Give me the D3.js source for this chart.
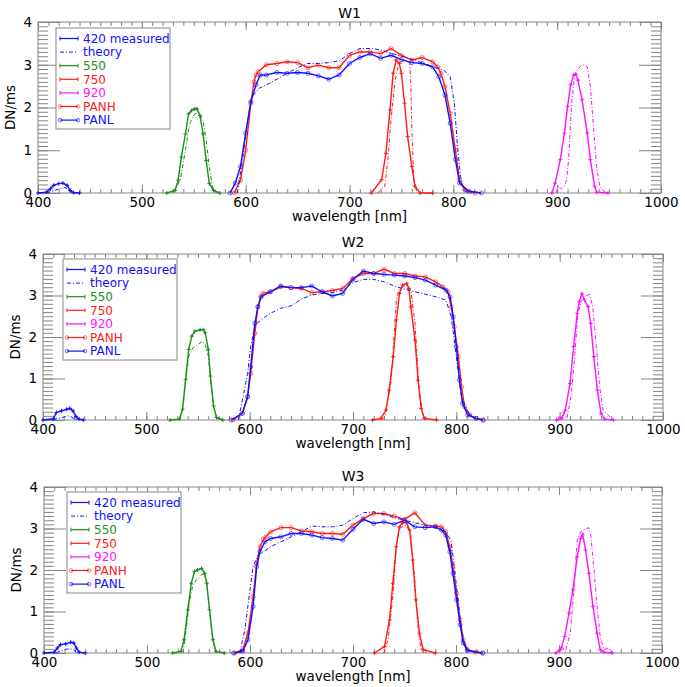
<!DOCTYPE html>
<html>
<head>
<meta charset="utf-8">
<script src="https://cdn.jsdelivr.net/npm/d3@7"></script>
<style>
  body { margin: 0; background: #fff; }
  text { font-family: "DejaVu Sans", sans-serif; }
</style>
</head>
<body>
<script>
// ---- data: [wavelength nm, DN/ms] ----
// W1
var w1_420 = [[400,0],[408,0.02],[412,0.1],[415,0.18],[420,0.22],[424,0.23],[428,0.18],[431,0.06],[434,0.01],[440,0]];
var w1_420_th = [[408,0],[412,0.03],[416,0.06],[421,0.1],[426,0.13],[429,0.08],[432,0.01],[435,0]];
var w1_550 = [[524,0],[532,0.06],[535,0.3],[538,0.84],[542,1.38],[545,1.85],[548,1.93],[551,1.97],[553,1.97],[556,1.81],[559,1.38],[562,0.76],[565,0.22],[569,0.06],[575,0]];
var w1_550_th = [[530,0],[537,0.3],[542,1.0],[546,1.62],[551,1.85],[555,1.89],[559,1.69],[562,1.23],[565,0.61],[568,0.14],[572,0]];
var w1_750 = [[721,0],[731,0.31],[735,0.93],[739,1.94],[742,2.8],[745,3.11],[748,3.03],[750,2.8],[753,2.1],[756,1.32],[760,0.62],[763,0.16],[768,0],[780,0]];
var w1_750_th = [[727,0],[734,0.16],[737,0.78],[740,1.71],[744,2.64],[747,2.97],[750,3.08],[755,3.1],[758,3.03],[759,2.6],[760,1.5],[762,0.3],[765,0]];
var w1_920 = [[895,0],[898,0.23],[903,0.78],[907,1.4],[910,2.02],[913,2.53],[916,2.76],[918,2.78],[920,2.64],[924,2.18],[929,1.4],[932,0.78],[936,0.16],[938,0.02],[949,0]];
var w1_920_th = [[899,0],[901,0.16],[904,0.1],[907,0.15],[909,0.3],[911,0.78],[914,2.1],[917,2.8],[922,2.95],[925,3.0],[929,2.95],[932,2.49],[935,1.55],[938,0.62],[941,0.16],[945,0.04],[949,0]];
var w1_panh = [[589,0],[595,0.3],[600,1.0],[605,2.1],[608,2.6],[610,2.76],[612,2.84],[620,3.0],[630,3.03],[640,3.07],[650,3.05],[660,2.93],[670,2.99],[680,2.93],[690,2.93],[700,3.22],[710,3.3],[720,3.3],[730,3.26],[740,3.38],[750,3.22],[760,3.11],[770,3.17],[780,3.07],[785,2.95],[788,2.8],[792,2.49],[797,1.86],[802,1.0],[806,0.31],[811,0.08],[821,0]];
var w1_panl = [[585,0],[590,0.23],[595,0.62],[600,1.4],[605,2.14],[610,2.53],[614,2.76],[620,2.76],[630,2.82],[640,2.8],[650,2.82],[660,2.8],[670,2.74],[680,2.66],[690,2.76],[700,3.03],[710,3.17],[720,3.26],[730,3.15],[740,3.22],[750,3.12],[760,3.05],[770,3.03],[780,2.95],[786,2.72],[792,2.29],[797,1.63],[802,0.78],[806,0.23],[815,0.04],[827,0]];
var w1_pan_th = [[592,0],[597,0.78],[602,1.71],[606,2.25],[613,2.45],[620,2.53],[630,2.66],[640,2.8],[650,2.93],[660,3.03],[670,3.03],[680,3.05],[690,3.09],[700,3.26],[710,3.38],[722,3.38],[731,3.34],[741,3.26],[752,3.19],[762,3.11],[772,3.03],[781,2.95],[791,2.87],[797,2.72],[801,2.1],[804,1.09],[807,0.39],[810,0.04],[818,0]];

// W2
var w2_420 = [[400,0],[410,0.03],[413,0.18],[418,0.22],[423,0.26],[426,0.28],[429,0.22],[432,0.08],[435,0.02],[439,0]];
var w2_420_th = [[410,0],[413,0.03],[419,0.06],[424,0.1],[427,0.08],[431,0.02],[434,0]];
var w2_550 = [[523,0],[532,0.02],[535,0.26],[538,0.98],[541,1.7],[544,2.02],[547,2.14],[552,2.17],[555,2.18],[557,2.1],[560,1.7],[562,1.06],[565,0.34],[568,0.06],[574,0]];
var w2_550_th = [[532,0],[535,0.2],[538,0.9],[541,1.54],[545,1.74],[550,1.82],[554,1.9],[557,1.82],[560,1.54],[562,0.98],[565,0.34],[568,0.04],[572,0]];
var w2_750 = [[719,0],[727,0.04],[732,0.24],[735,0.72],[739,1.53],[742,2.41],[745,3.05],[748,3.25],[752,3.29],[754,3.17],[756,2.73],[760,1.93],[763,0.96],[766,0.28],[769,0.04],[781,0]];
var w2_750_th = [[728,0],[731,0.1],[737,0.96],[742,2.89],[745,3.17],[752,3.25],[756,3.13],[760,2.33],[764,0.72],[768,0.08],[771,0]];
var w2_920 = [[897,0],[902,0.04],[905.5,0.24],[910,0.88],[913.5,1.77],[917,2.57],[919,2.85],[921.5,3.04],[924,2.89],[927.5,2.73],[930,2.33],[933,1.53],[936.5,0.72],[940,0.16],[943.5,0.02],[952,0]];
var w2_920_th = [[898,0],[900,0.12],[903,0.2],[907,0.04],[911,0.56],[914.5,1.53],[917.7,2.57],[921,2.89],[925,2.99],[929,3.03],[932,2.73],[935.5,1.77],[938.7,0.8],[942,0.24],[947,0.12],[950,0.04],[952,0]];
var w2_panh = [[584,0],[593,0.16],[598,0.56],[601,1.12],[605,2.09],[608,2.73],[611,2.97],[613,3.05],[620,3.09],[630,3.21],[640,3.19],[650,3.17],[660,3.07],[670,3.09],[680,3.12],[690,3.17],[700,3.41],[710,3.53],[720,3.53],[730,3.63],[740,3.53],[750,3.53],[760,3.47],[770,3.45],[780,3.33],[787,3.21],[792,3.09],[795,2.73],[798,2.25],[802,1.53],[805,0.8],[808,0.32],[813,0.12],[819,0.04],[826,0]];
var w2_panl = [[582,0],[593,0.16],[598,0.56],[601,1.28],[605,2.33],[608,2.73],[611,2.97],[620,3.09],[630,3.23],[640,3.19],[650,3.19],[660,3.23],[670,3.09],[680,2.99],[690,3.05],[700,3.39],[710,3.59],[720,3.53],[730,3.51],[740,3.49],[750,3.47],[760,3.43],[770,3.37],[780,3.25],[790,3.13],[794,2.97],[797,2.49],[800,1.77],[803,0.96],[806,0.4],[811,0.12],[819,0.04],[826,0]];
var w2_pan_th = [[589,0],[593,0.48],[598,1.12],[601,1.77],[605,2.25],[607,2.33],[613,2.45],[620,2.57],[630,2.69],[640,2.75],[650,2.91],[660,3.01],[670,3.05],[680,3.07],[690,3.13],[700,3.31],[710,3.39],[720,3.39],[730,3.33],[740,3.23],[750,3.15],[760,3.09],[770,3.03],[780,2.97],[790,2.89],[795,2.49],[798,1.93],[802,1.12],[805,0.56],[810,0.24],[816,0.08],[823,0]];

// W3
var w3_420 = [[400,0],[410,0.02],[413,0.12],[416,0.2],[421,0.22],[426,0.26],[429,0.24],[431.5,0.12],[434,0.02],[440,0]];
var w3_420_th = [[412,0],[414.6,0.04],[419.5,0.08],[424,0.1],[428,0.09],[431.5,0.02],[434,0]];
var w3_550 = [[525,0],[533,0.04],[536,0.32],[539.6,1.04],[543,1.68],[546,1.96],[549,2.0],[553,2.04],[556,1.92],[558,1.68],[560.7,1.04],[564,0.32],[567,0.04],[575,0]];
var w3_550_th = [[535,0],[538,0.56],[541,1.2],[544.5,1.64],[548,1.76],[552.6,1.88],[555,1.9],[557.5,1.76],[560,1.2],[563,0.48],[565.6,0.08],[568,0]];
var w3_750 = [[721,0],[730.6,0.16],[735.5,0.8],[738.7,1.68],[742,2.56],[745,3.04],[748,3.14],[752,3.14],[755,2.96],[758,2.24],[761,1.28],[764.5,0.48],[768,0.08],[780,0]];
var w3_750_th = [[730,0],[734,0.32],[738.7,1.36],[742,2.56],[745,3.0],[751.6,3.08],[756,2.88],[760,1.76],[763,0.64],[766,0.08],[769,0]];
var w3_920 = [[897,0],[901.6,0.08],[905.5,0.4],[909.7,0.96],[913.5,1.52],[917.7,2.32],[921,2.76],[923,2.86],[925.8,2.48],[929,1.92],[933,1.12],[937,0.48],[940,0.08],[943.5,0.02],[951.6,0]];
var w3_920_th = [[898,0],[900,0.12],[903,0.16],[906,0.02],[911,0.48],[914.5,1.52],[917.7,2.72],[921,2.92],[925,2.98],[929,3.02],[931,2.8],[934,2.0],[937,1.12],[940,0.4],[943.5,0.08],[948,0.12],[951.6,0]];
var w3_panh = [[585,0],[593,0.08],[598,0.48],[603,1.36],[606.5,2.16],[609.7,2.56],[613,2.74],[615.5,2.8],[620,2.92],[630,3.02],[640,3.02],[650,2.94],[660,2.92],[670,2.88],[680,2.88],[690,2.86],[700,3.08],[710,3.24],[720,3.36],[730,3.36],[740,3.3],[750,3.22],[760,3.38],[770,3.08],[780,3.06],[786,3.04],[790,2.92],[794,2.56],[797,2.08],[800.6,1.44],[804,0.8],[807,0.32],[811,0.08],[819,0.02],[826,0]];
var w3_panl = [[584,0],[593,0.04],[598,0.32],[603,1.12],[606.5,2.08],[609.7,2.44],[614.5,2.68],[620,2.76],[630,2.8],[640,2.88],[650,2.88],[660,2.84],[670,2.78],[680,2.76],[690,2.72],[700,2.98],[710,3.22],[720,3.12],[730,3.16],[740,3.1],[750,3.2],[760,3.04],[770,3.02],[780,3.04],[786,2.96],[790,2.84],[794,2.44],[797,1.92],[800.6,1.28],[804,0.68],[807,0.24],[811,0.06],[826,0]];
var w3_pan_th = [[590,0],[595,0.56],[600,1.52],[603,2.08],[608,2.36],[613,2.44],[620,2.56],[630,2.68],[640,2.8],[650,2.92],[660,3.06],[670,3.04],[680,3.04],[690,3.08],[700,3.24],[710,3.38],[720,3.4],[730,3.34],[740,3.26],[750,3.2],[760,3.14],[770,3.08],[780,3.02],[790,2.92],[795,2.72],[798,2.16],[801.6,1.36],[805,0.64],[808,0.24],[813,0.06],[819,0]];

// axis ticks and legend labels
var xMajor = [400, 500, 600, 700, 800, 900, 1000];
var yMajor = [0, 1, 2, 3, 4];
var legendLabels = ["420 measured", "theory", "550", "750", "920", "PANH", "PANL"];

// colours
var BLUE = "#1010ff", GREEN = "#1e8c1e", RED = "#ff1a1a", MAG = "#ff10ff";
var AXIS = "#858585";

// panel layout (pixels)
var panels = [
  {title: "W1", l: 38, r: 661, t: 22, b: 193, titleY: 18, legX: 56, legY: 28,
   data: [w1_420, w1_420_th, w1_550, w1_550_th, w1_750, w1_750_th, w1_920, w1_920_th, w1_panh, w1_panl, w1_pan_th]},
  {title: "W2", l: 43, r: 663, t: 254, b: 420, titleY: 247, legX: 63, legY: 259,
   data: [w2_420, w2_420_th, w2_550, w2_550_th, w2_750, w2_750_th, w2_920, w2_920_th, w2_panh, w2_panl, w2_pan_th]},
  {title: "W3", l: 44, r: 662, t: 487, b: 653, titleY: 481, legX: 67, legY: 492,
   data: [w3_420, w3_420_th, w3_550, w3_550_th, w3_750, w3_750_th, w3_920, w3_920_th, w3_panh, w3_panl, w3_pan_th]}
];

// style of each series in the data list above
var styles = [
  {c: BLUE, kind: "meas"}, {c: BLUE, kind: "theo"},
  {c: GREEN, kind: "meas"}, {c: GREEN, kind: "theo"},
  {c: RED, kind: "meas"}, {c: RED, kind: "theo"},
  {c: MAG, kind: "meas"}, {c: MAG, kind: "theo"},
  {c: RED, kind: "pan"}, {c: BLUE, kind: "pan"}, {c: BLUE, kind: "theo"}
];

var svg = d3.select("body").append("svg")
  .attr("width", 685)
  .attr("height", 687);

function styleAxis(sel) {
  sel.select(".domain").remove();
  sel.selectAll("line").attr("stroke", AXIS);
  sel.selectAll("text").attr("fill", "#000").attr("font-size", "13.5px");
}

panels.forEach(function(p) {
  var x = d3.scaleLinear().domain([400, 1000]).range([p.l, p.r]);
  var y = d3.scaleLinear().domain([0, 4]).range([p.b, p.t]);
  var g = svg.append("g");

  // minor ticks
  var xMinor = d3.range(400, 1001, 10);
  var yMinor = d3.range(0, 40.5, 1).map(function(d) { return d / 10; });

  g.append("g").attr("transform", "translate(0," + p.b + ")")
    .call(d3.axisBottom(x).tickValues(xMinor).tickSize(-4).tickFormat("")).call(styleAxis);
  g.append("g").attr("transform", "translate(0," + p.t + ")")
    .call(d3.axisTop(x).tickValues(xMinor).tickSize(-4).tickFormat("")).call(styleAxis);
  g.append("g").attr("transform", "translate(" + p.l + ",0)")
    .call(d3.axisLeft(y).tickValues(yMinor).tickSize(-10).tickFormat("")).call(styleAxis);
  g.append("g").attr("transform", "translate(" + p.r + ",0)")
    .call(d3.axisRight(y).tickValues(yMinor).tickSize(-10).tickFormat("")).call(styleAxis);

  // major ticks
  g.append("g").attr("transform", "translate(0," + p.b + ")")
    .call(d3.axisBottom(x).tickValues(xMajor).tickSizeInner(-8).tickSizeOuter(0).tickPadding(4.5).tickFormat(d3.format("d")))
    .call(styleAxis);
  g.append("g").attr("transform", "translate(0," + p.t + ")")
    .call(d3.axisTop(x).tickValues(xMajor).tickSizeInner(-8).tickSizeOuter(0).tickFormat(""))
    .call(styleAxis);
  g.append("g").attr("transform", "translate(" + p.l + ",0)")
    .call(d3.axisLeft(y).tickValues(yMajor).tickSizeInner(-22).tickSizeOuter(0).tickPadding(6).tickFormat(d3.format("d")))
    .call(styleAxis);
  g.append("g").attr("transform", "translate(" + p.r + ",0)")
    .call(d3.axisRight(y).tickValues(yMajor).tickSizeInner(-22).tickSizeOuter(0).tickFormat(""))
    .call(styleAxis);

  // frame
  g.append("rect")
    .attr("x", p.l).attr("y", p.t)
    .attr("width", p.r - p.l).attr("height", p.b - p.t)
    .attr("fill", "none").attr("stroke", AXIS).attr("stroke-width", 1);

  // title and axis labels
  g.append("text")
    .attr("x", (p.l + p.r) / 2).attr("y", p.titleY)
    .attr("text-anchor", "middle").attr("font-size", "14px")
    .text(p.title);
  g.append("text")
    .attr("x", (p.l + p.r) / 2).attr("y", p.b + 28)
    .attr("text-anchor", "middle").attr("font-size", "13.5px")
    .text("wavelength [nm]");
  g.append("text")
    .attr("transform", "translate(" + (p.l - 23) + "," + ((p.t + p.b) / 2) + ") rotate(-90)")
    .attr("text-anchor", "middle").attr("font-size", "13.5px")
    .text("DN/ms");

  var line = d3.line().x(function(d) { return x(d[0]); }).y(function(d) { return y(d[1]); });

  // curves
  p.data.forEach(function(ser, i) {
    var s = styles[i];
    var path = g.append("path")
      .attr("d", line(ser))
      .attr("fill", "none")
      .attr("stroke", s.c);
    if (s.kind === "theo") {
      path.attr("stroke-width", 1).attr("stroke-dasharray", "4,2,1,2");
    } else {
      path.attr("stroke-width", 1.4);
    }
    if (s.kind === "meas") {
      g.append("g").selectAll("path")
        .data(ser)
        .enter()
        .append("path")
        .attr("d", function(d) {
          var cx = x(d[0]), cy = y(d[1]);
          return "M" + (cx - 2) + "," + cy + "h4M" + cx + "," + (cy - 2) + "v4";
        })
        .attr("stroke", s.c)
        .attr("stroke-width", 1);
    }
    if (s.kind === "pan") {
      g.append("g").selectAll("circle")
        .data(ser)
        .enter()
        .append("circle")
        .attr("cx", function(d) { return x(d[0]); })
        .attr("cy", function(d) { return y(d[1]); })
        .attr("r", 2)
        .attr("fill", "none")
        .attr("stroke", s.c)
        .attr("stroke-opacity", 0.6)
        .attr("stroke-width", 1);
    }
  });

  // legend
  var leg = g.append("g").attr("transform", "translate(" + p.legX + "," + p.legY + ")");
  leg.append("rect")
    .attr("width", 114).attr("height", 101)
    .attr("fill", "#fff").attr("stroke", AXIS).attr("stroke-width", 1);
  var legStyle = [styles[0], styles[1], styles[2], styles[4], styles[6], styles[8], styles[9]];
  legendLabels.forEach(function(lab, i) {
    var s = legStyle[i];
    var ly = 10.5 + i * 13.6;
    var ln = leg.append("line")
      .attr("x1", 4).attr("x2", 22).attr("y1", ly).attr("y2", ly)
      .attr("stroke", s.c);
    if (s.kind === "theo") {
      ln.attr("stroke-width", 1).attr("stroke-dasharray", "4,2,1,2");
    } else {
      ln.attr("stroke-width", 1.2);
    }
    if (s.kind === "meas") {
      [4, 22].forEach(function(ex) {
        leg.append("line").attr("x1", ex).attr("x2", ex).attr("y1", ly - 2).attr("y2", ly + 2)
          .attr("stroke", s.c).attr("stroke-width", 1);
      });
    }
    if (s.kind === "pan") {
      [4, 22].forEach(function(ex) {
        leg.append("circle").attr("cx", ex).attr("cy", ly).attr("r", 1.8)
          .attr("fill", "none").attr("stroke", s.c).attr("stroke-opacity", 0.6);
      });
    }
    leg.append("text")
      .attr("x", 27).attr("y", ly).attr("dy", "0.35em")
      .attr("font-size", "12px")
      .attr("fill", s.c)
      .text(lab);
  });
});
</script>
</body>
</html>
